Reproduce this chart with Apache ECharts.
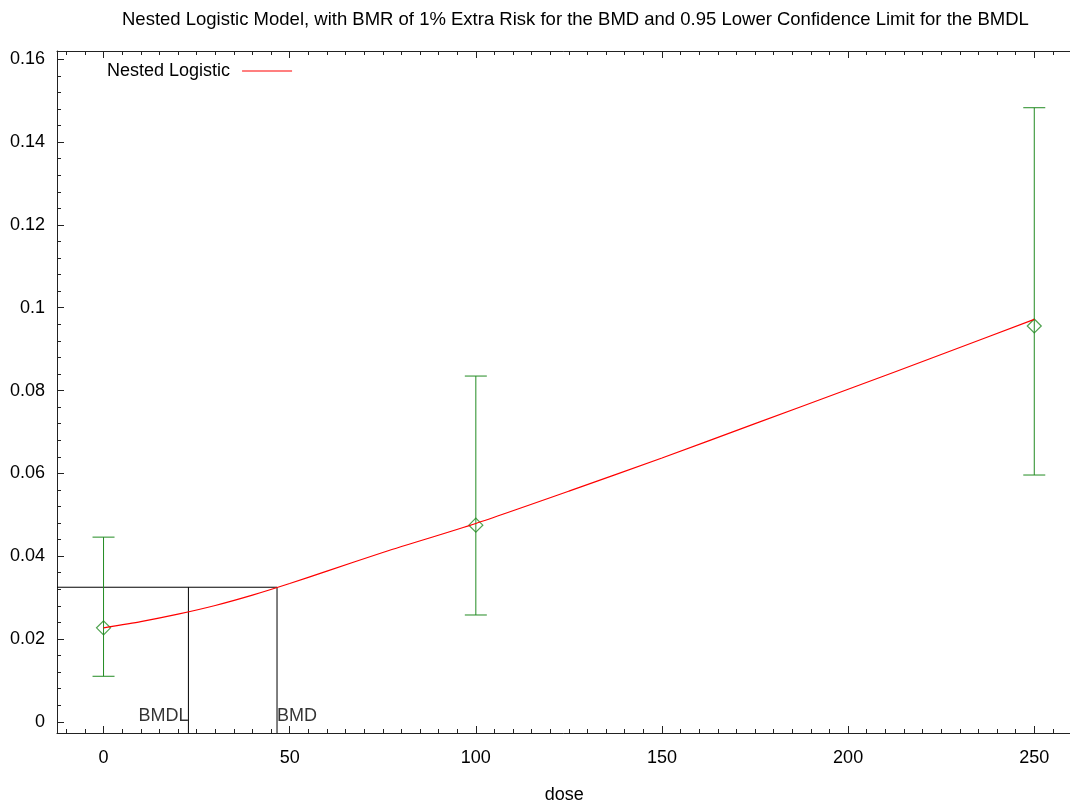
<!DOCTYPE html>
<html>
<head>
<meta charset="utf-8">
<script src="https://cdn.jsdelivr.net/npm/echarts@6/dist/echarts.min.js"></script>
<style>html,body{margin:0;padding:0;background:#fff;}#main{width:1070px;height:800px;}</style>
</head>
<body>
<div id="main"></div>
<script>
// ---- data ----
const titleText = 'Nested Logistic Model, with BMR of 1% Extra Risk for the BMD and 0.95 Lower Confidence Limit for the BMDL';
const seriesName = 'Nested Logistic';
const doses = [0, 100, 250];
const observed = [0.0227, 0.0475, 0.0956];
const lowerCL = [0.0110, 0.0258, 0.0596];
const upperCL = [0.0446, 0.0835, 0.1483];
const curveDose = [0, 10, 20, 30, 40, 50, 60, 75, 100, 125, 150, 175, 200, 225, 250];
const curveResp = [0.0227, 0.0242, 0.0260, 0.0281, 0.0306, 0.0334, 0.0364, 0.0409, 0.0479, 0.0557, 0.0637, 0.0720, 0.0803, 0.0887, 0.0972];
const bmd = 46.6;
const bmdl = 22.8;
const bmrResponse = 0.0325;
const xMajor = [0, 50, 100, 150, 200, 250];
const xMinor = [-10, -5, 5, 10, 15, 20, 25, 30, 35, 40, 45, 55, 60, 65, 70, 75, 80, 85, 90, 95, 105, 110, 115, 120, 125, 130, 135, 140, 145, 155, 160, 165, 170, 175, 180, 185, 190, 195, 205, 210, 215, 220, 225, 230, 235, 240, 245, 255];
const yMajor = [0, 0.02, 0.04, 0.06, 0.08, 0.1, 0.12, 0.14, 0.16];
const yMinor = [0.004, 0.008, 0.012, 0.016, 0.024, 0.028, 0.032, 0.036, 0.044, 0.048, 0.052, 0.056, 0.064, 0.068, 0.072, 0.076, 0.084, 0.088, 0.092, 0.096, 0.104, 0.108, 0.112, 0.116, 0.124, 0.128, 0.132, 0.136, 0.144, 0.148, 0.152, 0.156];
const xRange = [-12.5, 260];
const yRange = [-0.0027, 0.162];

const FONT = 'Liberation Sans, Arial, Helvetica, sans-serif';
const GREEN = '#228b22';
const AX = '#222';

function xAxisDef(pos, ticks, len, showLine, showLabel) {
  return {
    type: 'value', position: pos, min: xRange[0], max: xRange[1],
    splitLine: { show: false },
    axisLine: { show: showLine, onZero: false, lineStyle: { color: AX, width: 1 } },
    axisTick: { show: true, inside: true, length: len, customValues: ticks, lineStyle: { color: AX } },
    axisLabel: showLabel ? { show: true, customValues: ticks, fontSize: 18, color: '#000', fontFamily: FONT, margin: 16 } : { show: false }
  };
}
function yAxisDef(ticks, len, showLine, showLabel) {
  return {
    type: 'value', position: 'left', min: yRange[0], max: yRange[1],
    splitLine: { show: false },
    axisLine: { show: showLine, onZero: false, lineStyle: { color: AX, width: 1 } },
    axisTick: { show: true, inside: true, length: len, customValues: ticks, lineStyle: { color: AX } },
    axisLabel: showLabel ? { show: true, customValues: ticks, fontSize: 18, color: '#000', fontFamily: FONT, margin: 12,
      padding: [5, 0, 0, 0],
      formatter: v => String(+(+v).toFixed(3)) } : { show: false }
  };
}

const xa0 = xAxisDef('bottom', xMajor, 7, true, true);
xa0.name = 'dose';
xa0.nameLocation = 'middle';
xa0.nameGap = 53;
xa0.nameTextStyle = { fontSize: 18, color: '#000', fontFamily: FONT };

const chart = echarts.init(document.getElementById('main'), null, { renderer: 'canvas' });
chart.setOption({
  animation: false,
  backgroundColor: '#fff',
  title: {
    text: titleText, left: 117, top: 5,
    textStyle: { fontSize: 18.5, fontWeight: 'normal', color: '#000', fontFamily: FONT }
  },
  legend: {
    left: 102, top: 57, align: 'right', itemWidth: 50, itemHeight: 1,
    data: [{ name: seriesName, icon: 'rect', itemStyle: { color: '#ff0000', borderWidth: 0 }, lineStyle: { color: '#ff0000' } }],
    itemStyle: { color: '#ff0000', borderWidth: 0 },
    lineStyle: { color: '#ff0000' },
    textStyle: { fontSize: 18, color: '#000', fontFamily: FONT, padding: [0, 7, 0, 0] }
  },
  grid: { left: 57, top: 51, width: 1014.5, height: 682, containLabel: false, outerBoundsMode: 'none' },
  xAxis: [
    xa0,
    xAxisDef('bottom', xMinor, 4, false, false),
    xAxisDef('top', xMajor, 7, true, false),
    xAxisDef('top', xMinor, 4, false, false)
  ],
  yAxis: [
    yAxisDef(yMajor, 7, true, true),
    yAxisDef(yMinor, 4, false, false)
  ],
  series: [
    {
      type: 'custom', name: 'errorbars', xAxisIndex: 0, yAxisIndex: 0, z: 2,
      data: doses.map((d, i) => [d, lowerCL[i], upperCL[i]]),
      renderItem: function (params, api) {
        const x = api.value(0);
        const lo = api.coord([x, api.value(1)]);
        const hi = api.coord([x, api.value(2)]);
        const st = { stroke: GREEN, lineWidth: 1 };
        return {
          type: 'group',
          children: [
            { type: 'line', shape: { x1: lo[0], y1: lo[1], x2: hi[0], y2: hi[1] }, style: st },
            { type: 'line', shape: { x1: lo[0] - 11, y1: lo[1], x2: lo[0] + 11, y2: lo[1] }, style: st },
            { type: 'line', shape: { x1: hi[0] - 11, y1: hi[1], x2: hi[0] + 11, y2: hi[1] }, style: st }
          ]
        };
      }
    },
    {
      type: 'scatter', name: 'observed', xAxisIndex: 0, yAxisIndex: 0, z: 3,
      symbol: 'diamond', symbolSize: [14, 14],
      itemStyle: { color: 'rgba(0,0,0,0)', borderColor: GREEN, borderWidth: 1.2 },
      data: doses.map((d, i) => [d, observed[i]])
    },
    {
      type: 'line', name: seriesName, xAxisIndex: 0, yAxisIndex: 0, z: 4,
      showSymbol: false, smooth: 0.2, color: '#ff0000', lineStyle: { color: '#ff0000', width: 1.2 },
      itemStyle: { color: '#ff0000' },
      data: curveDose.map((d, i) => [d, curveResp[i]])
    },
    {
      type: 'line', name: 'bmdlines', xAxisIndex: 0, yAxisIndex: 0, z: 1,
      showSymbol: false, lineStyle: { color: '#000', width: 1 },
      data: [[xRange[0], bmrResponse], [bmd, bmrResponse], [bmd, yRange[0]]]
    },
    {
      type: 'line', name: 'bmdlline', xAxisIndex: 0, yAxisIndex: 0, z: 1,
      showSymbol: false, lineStyle: { color: '#000', width: 1 },
      data: [[bmdl, bmrResponse], [bmdl, yRange[0]]]
    },
    {
      type: 'scatter', name: 'bmdlabels', xAxisIndex: 0, yAxisIndex: 0, z: 5,
      symbolSize: 0, silent: true,
      data: [
        { value: [bmdl, 0], label: { show: true, formatter: 'BMDL', position: 'left', distance: 0, align: 'right', verticalAlign: 'bottom', offset: [0, 3] } },
        { value: [bmd, 0], label: { show: true, formatter: 'BMD', position: 'right', distance: 0, align: 'left', verticalAlign: 'bottom', offset: [0, 3] } }
      ],
      label: { fontSize: 18, color: '#000', fontFamily: FONT }
    }
  ]
});
</script>
</body>
</html>
